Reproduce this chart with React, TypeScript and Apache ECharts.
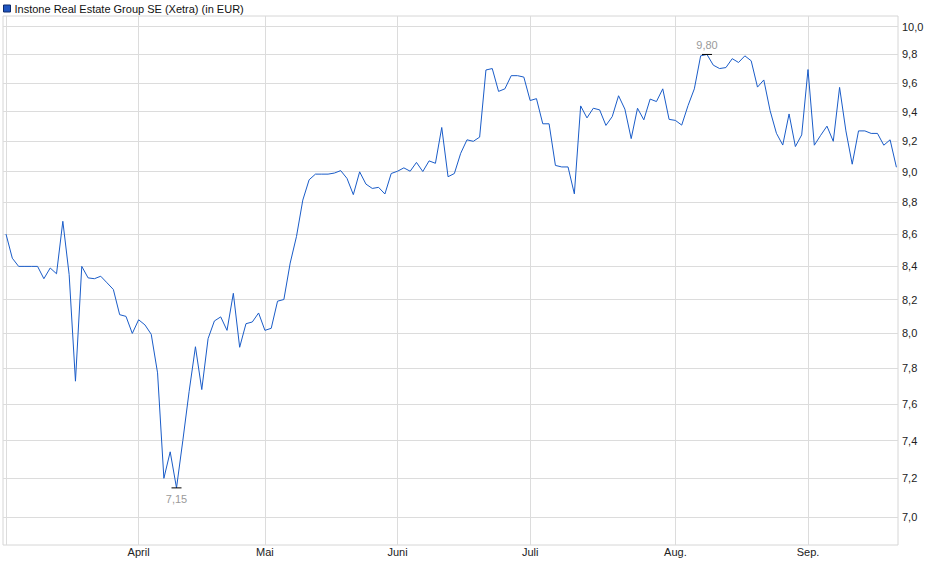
import { useEffect, useRef } from 'react';
import * as echarts from 'echarts';

const SERIES_NAME = 'Instone Real Estate Group SE (Xetra) (in EUR)';
const FONT = 'Liberation Sans, Arial, sans-serif';

// daily closing prices, 3 Mar – 19 Sep (Xetra trading days)
const prices = [
  8.6, 8.45, 8.4, 8.4, 8.4, 8.4, 8.325, 8.39, 8.355, 8.68,
  8.35, 7.727, 8.4, 8.33, 8.325, 8.34, 8.3, 8.26, 8.11, 8.1,
  8.0, 8.08, 8.05, 7.995, 7.774, 7.2, 7.34, 7.15, 7.4, 7.67,
  7.923, 7.68, 7.97, 8.073, 8.097, 8.018, 8.237, 7.92, 8.057, 8.067,
  8.12, 8.018, 8.03, 8.19, 8.2, 8.42, 8.585, 8.815, 8.946, 8.983,
  8.983, 8.983, 8.99, 9.006, 8.955, 8.85, 8.998, 8.918, 8.89, 8.897,
  8.854, 8.987, 9.002, 9.024, 9.002, 9.06, 9.0, 9.07, 9.054, 9.293,
  8.966, 8.987, 9.12, 9.21, 9.2, 9.228, 9.69, 9.7, 9.54, 9.558,
  9.65, 9.65, 9.64, 9.477, 9.49, 9.318, 9.318, 9.04, 9.03, 9.03,
  8.855, 9.44, 9.358, 9.424, 9.413, 9.307, 9.367, 9.51, 9.418, 9.218,
  9.424, 9.345, 9.487, 9.47, 9.558, 9.348, 9.341, 9.309, 9.442, 9.558,
  9.79, 9.8, 9.724, 9.7, 9.707, 9.77, 9.743, 9.79, 9.755, 9.57,
  9.62, 9.407, 9.254, 9.175, 9.385, 9.165, 9.243, 9.693, 9.174, 9.24,
  9.302, 9.2, 9.568, 9.27, 9.048, 9.27, 9.27, 9.253, 9.253, 9.174,
  9.21, 9.028,
];

// index of the first trading day of each month
const monthStartIdx = [0, 21, 41, 62, 83, 106, 127];
const monthLabels = ['', 'April', 'Mai', 'Juni', 'Juli', 'Aug.', 'Sep.'];

const yTicks = [7.0, 7.2, 7.4, 7.6, 7.8, 8.0, 8.2, 8.4, 8.6, 8.8, 9.0, 9.2, 9.4, 9.6, 9.8, 10.0];
const yMin = 6.859;
const yMax = 10.078;

export default function App() {
  const ref = useRef<HTMLDivElement | null>(null);

  useEffect(() => {
    if (!ref.current) return;
    const chart = echarts.init(ref.current, undefined, { renderer: 'svg' });

    // the price axis is logarithmic: plot ln(price), label with price
    const fmt = (v: number, digits: number) => Math.exp(v).toFixed(digits).replace('.', ',');

    chart.setOption({
      animation: false,
      textStyle: { fontFamily: FONT },
      legend: {
        left: 3,
        top: 3,
        padding: 0,
        icon: 'rect',
        itemWidth: 7,
        itemHeight: 7,
        data: [SERIES_NAME],
        itemStyle: { color: '#1f55c0', borderColor: '#0e2a6b', borderWidth: 1 },
        textStyle: { fontSize: 11, color: '#111', fontFamily: FONT, padding: [0, 0, 0, -1] },
      },
      grid: {
        left: 3,
        top: 16,
        right: 42,
        bottom: 34,
        show: true,
        borderColor: '#d6d6d6',
        borderWidth: 1,
      },
      xAxis: {
        type: 'value',
        min: -0.475,
        max: 141.25,
        axisLine: { show: false },
        axisTick: { show: false, customValues: monthStartIdx },
        splitLine: { show: true, lineStyle: { color: '#dcdcdc', width: 1 } },
        axisLabel: {
          customValues: monthStartIdx,
          margin: 1,
          fontSize: 11,
          color: '#222',
          fontFamily: FONT,
          formatter: (v: number) => monthLabels[monthStartIdx.indexOf(v)] ?? '',
        },
      },
      yAxis: {
        type: 'value',
        position: 'right',
        min: Math.log(yMin),
        max: Math.log(yMax),
        axisLine: { show: false },
        axisTick: { show: false, customValues: yTicks.map(Math.log) },
        splitLine: { show: true, lineStyle: { color: '#dcdcdc', width: 1 } },
        axisLabel: {
          customValues: yTicks.map(Math.log),
          margin: 4,
          fontSize: 11,
          color: '#222',
          fontFamily: FONT,
          formatter: (v: number) => fmt(v, 1),
        },
      },
      series: [
        {
          name: SERIES_NAME,
          type: 'line',
          data: prices.map((p, i) => [i, Math.log(p)]),
          showSymbol: false,
          symbol: 'none',
          lineStyle: { color: '#1a5cc8', width: 1 },
          itemStyle: { color: '#1f55c0' },
          markPoint: {
            symbol: 'rect',
            symbolSize: [10, 1],
            itemStyle: { color: '#000' },
            data: [
              {
                type: 'max',
                label: { position: 'top', distance: 3 },
              },
              {
                type: 'min',
                label: { position: 'bottom', distance: 5 },
              },
            ],
            label: {
              show: true,
              fontSize: 11,
              color: '#9a9a9a',
              fontFamily: FONT,
              formatter: (p: { value: number }) => fmt(p.value, 2),
            },
          },
        },
      ],
    });

    return () => {
      chart.dispose();
    };
  }, []);

  return (
    <div
      ref={ref}
      style={{ position: 'fixed', left: 0, top: 0, width: 940, height: 579, background: '#fff' }}
    />
  );
}
